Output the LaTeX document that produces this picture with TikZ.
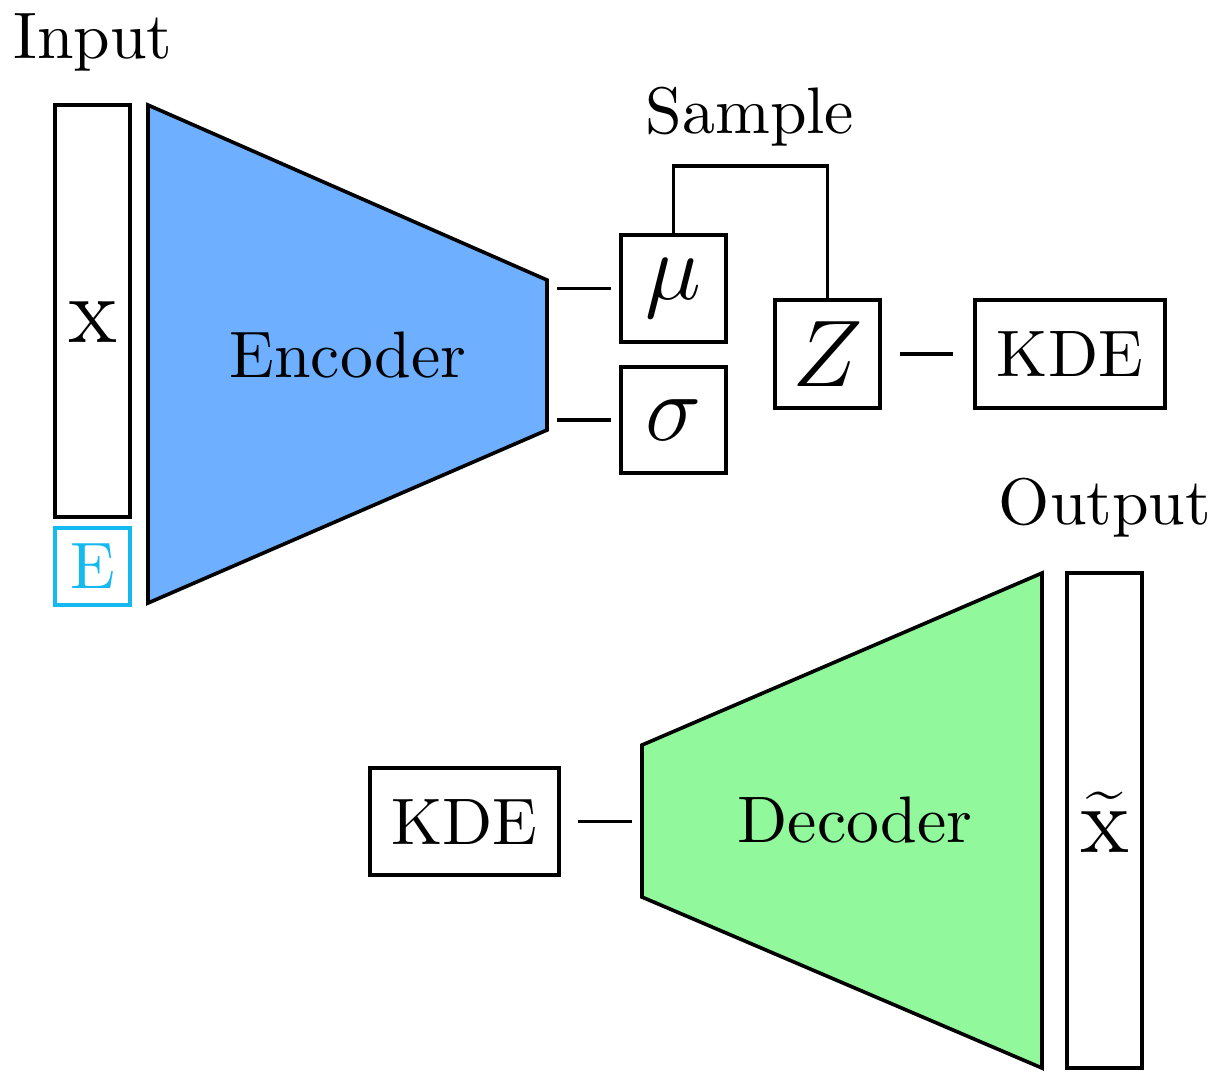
\documentclass[tikz,border=0pt]{standalone}
\usetikzlibrary{calc}
\definecolor{encblue}{RGB}{110,176,255}
\definecolor{decgreen}{RGB}{145,248,155}
\definecolor{embcyan}{RGB}{20,185,240}
\newcommand\pxu{0.152}
\begin{document}
\begin{tikzpicture}[x=0.152pt, y=-0.152pt,
  lw/.style={line width=0.55pt},
  box/.style={lw, draw, inner sep=0pt, minimum width=#1*\pxu},
  boxh/.style={minimum height=#1*\pxu},
  sym/.style={font=\Large},
  lbl/.style={inner sep=0pt}]
\useasboundingbox (0,0) rectangle (1217,1071);

% input column
\node[lbl] (input) at (93,42) {Input};
\node[box=75, boxh=412] (x) at (92.5,311) {};
\node[lbl, sym] (xlbl) at (93,322) {$\mathrm{x}$};
\node[box=75, boxh=77, draw=embcyan, text=embcyan] (e) at (92.5,566.5) {E};

% encoder
\coordinate (encTL) at (148,105);
\coordinate (encTR) at (547,280);
\coordinate (encBR) at (547,430);
\coordinate (encBL) at (148,603);
\draw[lw, fill=encblue] (encTL) -- (encTR) -- (encBR) -- (encBL) -- cycle;
\node[lbl] (enc) at (348,355) {Encoder};

% latent parameters
\node[box=105, boxh=107, sym] (mu) at (673.5,288.5) {$\mu$};
\node[box=105, boxh=106, sym] (sigma) at (673.5,420) {$\sigma$};
\node[box=105, boxh=108, sym] (z) at (827.5,354) {$Z$};
\node[box=190, boxh=108] (kdeA) at (1070,354) {KDE};
\node[lbl] (sample) at (750,117) {Sample};

\draw[lw, shorten <=1.5pt, shorten >=1.2pt] (encTR |- mu.west) -- (mu.west);
\draw[lw, shorten <=1.5pt, shorten >=1.2pt] (encTR |- sigma.west) -- (sigma.west);
\draw[lw] (mu.north) -- ++(0,-67) -| (z.north);
\draw[lw, shorten <=2.7pt, shorten >=3pt] (z.east) -- (kdeA.west);

% decoder
\coordinate (decTL) at (642,745);
\coordinate (decTR) at (1042,573);
\coordinate (decBR) at (1042,1068);
\coordinate (decBL) at (642,897);
\draw[lw, fill=decgreen] (decTL) -- (decTR) -- (decBR) -- (decBL) -- cycle;
\node[lbl] (dec) at (855,820) {Decoder};

\node[box=189, boxh=107] (kdeB) at (464.5,821.5) {KDE};
\draw[lw, shorten <=2.6pt, shorten >=1.5pt] (kdeB.east) -- (kdeB.east -| decTL);

% output column
\node[lbl] (output) at (1105,508) {Output};
\node[box=75, boxh=495] (xt) at (1104.5,820.5) {};
\node[lbl, sym] (xtlbl) at (1105,822) {$\widetilde{\mathrm{x}}$};
\end{tikzpicture}
\end{document}
